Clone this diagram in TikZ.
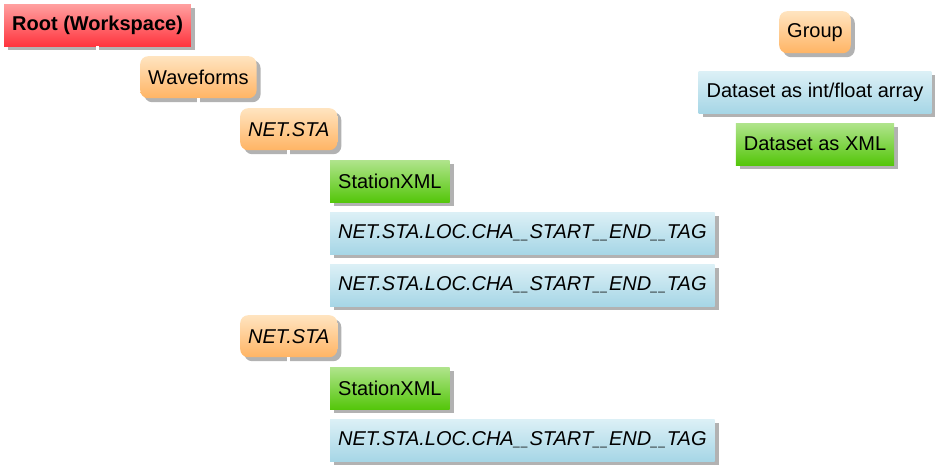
\documentclass[tikz,border=0pt]{standalone}
\usepackage{fontspec}
\setmainfont{Liberation Sans}
\usepackage{tikz}
\usetikzlibrary{shadows,backgrounds}

\definecolor{redtop}{RGB}{255,160,160}
\definecolor{redbot}{RGB}{255,52,62}
\definecolor{orgtop}{RGB}{255,228,192}
\definecolor{orgbot}{RGB}{255,180,100}
\definecolor{grntop}{RGB}{176,228,140}
\definecolor{grnbot}{RGB}{84,198,10}
\definecolor{blutop}{RGB}{220,240,246}
\definecolor{blubot}{RGB}{166,214,230}

\newcommand{\us}{\scalebox{0.6}[1]{\_}\kern1.2pt}

\begin{document}
\begin{tikzpicture}[
  x=1pt,y=-1pt,
  box/.style={anchor=north west,minimum height=42pt,inner xsep=8pt,
    font=\fontsize{20}{24}\selectfont,
    drop shadow={shadow xshift=4pt,shadow yshift=-4pt,opacity=0.3,fill=black}},
  rootbox/.style={box,top color=redtop,bottom color=redbot,font=\fontsize{20}{24}\selectfont\bfseries},
  groupbox/.style={box,rounded corners=8pt,top color=orgtop,bottom color=orgbot},
  xmlbox/.style={box,top color=grntop,bottom color=grnbot},
  arraybox/.style={box,top color=blutop,bottom color=blubot},
  link/.style={draw=white,line width=3pt}
]
\useasboundingbox (0,0) rectangle (946,465);
% Tree: root and waveforms
\node[rootbox] (root) at (4,4) {Root (Workspace)};
\node[groupbox] (wave) at (140,56) {Waveforms};
% First station
\node[groupbox] (sta1) at (240,108) {\itshape NET.STA};
\node[xmlbox] (xml1) at (330,160) {StationXML};
\node[arraybox] (tr1a) at (330,212) {\itshape NET.STA.LOC.CHA\us\us START\us\us END\us\us TAG};
\node[arraybox] (tr1b) at (330,264) {\itshape NET.STA.LOC.CHA\us\us START\us\us END\us\us TAG};
% Second station
\node[groupbox] (sta2) at (240,315) {\itshape NET.STA};
\node[xmlbox] (xml2) at (330,367) {StationXML};
\node[arraybox] (tr2a) at (330,419) {\itshape NET.STA.LOC.CHA\us\us START\us\us END\us\us TAG};
% Legend
\node[groupbox,anchor=north] (lgroup) at (815,11) {Group};
\node[arraybox,anchor=north] (larray) at (815,71) {Dataset as int/float array};
\node[xmlbox,anchor=north] (lxml) at (815,123) {Dataset as XML};
% Links (white)
\draw[link] (root.south) |- (wave.west);
\draw[link] (wave.south) |- (sta1.west); \draw[link] (wave.south) |- (sta2.west);
\draw[link] (sta1.south) |- (xml1.west); \draw[link] (sta1.south) |- (tr1a.west);
\draw[link] (sta1.south) |- (tr1b.west);
\draw[link] (sta2.south) |- (xml2.west); \draw[link] (sta2.south) |- (tr2a.west);
\end{tikzpicture}
\end{document}
